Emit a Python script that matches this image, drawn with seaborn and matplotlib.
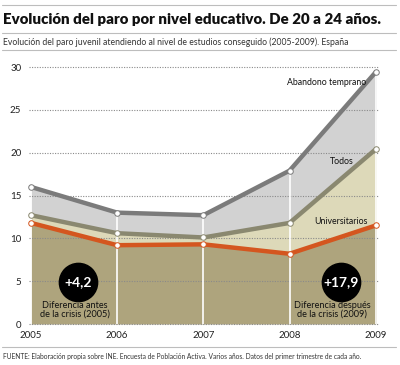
import pandas as pd
import matplotlib.pyplot as plt
import seaborn as sns
from matplotlib.lines import Line2D

years = [2005, 2006, 2007, 2008, 2009]
abandono = [16.0, 13.0, 12.7, 17.9, 29.4]
todos = [12.7, 10.6, 10.1, 11.8, 20.4]
universitarios = [11.8, 9.2, 9.3, 8.2, 11.5]
y_ticks = [0, 5, 10, 15, 20, 25, 30]

title = 'Evolución del paro por nivel educativo. De 20 a 24 años.'
subtitle = 'Evolución del paro juvenil atendiendo al nivel de estudios conseguido (2005-2009). España'
source = ('FUENTE: Elaboración propia sobre INE. Encuesta de Población Activa. '
          'Varios años. Datos del primer trimestre de cada año.')

df = pd.DataFrame({'year': years, 'abandono': abandono,
                   'todos': todos, 'univ': universitarios})

sns.set_style('white')
plt.rcParams['font.family'] = ['Lato', 'DejaVu Sans']

fig = plt.figure(figsize=(4.0, 3.65), dpi=100)
ax = fig.add_axes([0.0775, 0.1123, 0.8617, 0.7041])

# stacked areas
ax.fill_between(df['year'], df['todos'], df['abandono'], color='#d2d2d2', lw=0, zorder=1)
ax.fill_between(df['year'], df['univ'], df['todos'], color='#ddd9b9', lw=0, zorder=1)
ax.fill_between(df['year'], 0, df['univ'], color='#aea47d', lw=0, zorder=1)

# dotted grid drawn over the fills
for t in y_ticks:
    ax.axhline(t, color='#8a8a8a', lw=0.8, ls=(0, (1, 1.3)), zorder=2, xmin=-0.005, xmax=1.01, clip_on=False)

ax.vlines(df['year'], 0, df['abandono'], color='white', lw=1.2, zorder=2.5)

line_styles = [('abandono', '#7b7b7b'), ('todos', '#8a8870'), ('univ', '#d4561f')]
for col, c in line_styles:
    sns.lineplot(data=df, x='year', y=col, ax=ax, color=c, lw=3.2, zorder=3,
                 marker='o', markersize=4, markerfacecolor='white',
                 markeredgecolor=c, markeredgewidth=0.7, clip_on=False)

ax.set_xlim(years[0], years[-1])
ax.set_ylim(0, 30)
ax.set_xticks(years)
ax.set_yticks(y_ticks)
ax.tick_params(axis='both', length=0, labelsize=7, colors='#222222')
ax.tick_params(axis='x', pad=5)
ax.tick_params(axis='y', pad=7)
ax.set_xlabel('')
ax.set_ylabel('')
for s in ax.spines.values():
    s.set_visible(False)

# series labels
ax.text(2008.89, 28.2, 'Abandono temprano', ha='right', va='center', fontsize=6.3, color='#111111', zorder=5)
ax.text(2008.61, 19.0, 'Todos', ha='center', va='center', fontsize=6.3, color='#111111', zorder=5)
ax.text(2008.6, 12.0, 'Universitarios', ha='center', va='center', fontsize=6.3, color='#111111', zorder=5)

# difference bubbles
d0 = f'+{abandono[0] - universitarios[0]:.1f}'.replace('.', ',')
d1 = f'+{abandono[-1] - universitarios[-1]:.1f}'.replace('.', ',')
for xa, txt in [(0.136, d0), (0.899, d1)]:
    ax.scatter([xa], [0.163], s=760, color='black', transform=ax.transAxes, zorder=6, clip_on=False)
    ax.text(xa, 0.163, txt, transform=ax.transAxes, ha='center', va='center',
            color='white', fontsize=10, fontweight='bold', zorder=7)
ax.text(0.128, 0.055, 'Diferencia antes\nde la crisis (2005)', transform=ax.transAxes,
        ha='center', va='center', fontsize=6.6, linespacing=0.95, color='#111111', zorder=7)
ax.text(0.873, 0.055, 'Diferencia después\nde la crisis (2009)', transform=ax.transAxes,
        ha='center', va='center', fontsize=6.6, linespacing=0.95, color='#111111', zorder=7)

# header and footer
for yy in [1 - 5 / 365, 1 - 33 / 365, 1 - 50 / 365, 1 - 347 / 365]:
    fig.add_artist(Line2D([0.005, 0.99], [yy, yy], color='#bdbdbd', lw=0.8, transform=fig.transFigure))
fig.text(0.008, 1 - 19 / 365, title, ha='left', va='center', fontsize=10.8, fontweight='heavy', color='#111111')
fig.text(0.008, 1 - 42 / 365, subtitle, ha='left', va='center', fontsize=6.2, color='#333333')
fig.text(0.008, 1 - 356 / 365, source, ha='left', va='center', fontsize=4.75, color='#333333')

plt.savefig('out.png', dpi=100)
